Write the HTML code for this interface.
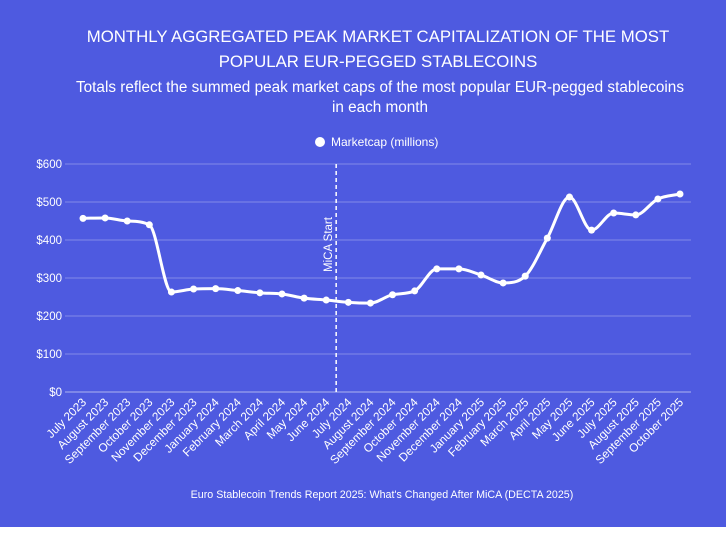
<!DOCTYPE html>
<html><head><meta charset="utf-8"><style>
body{margin:0;background:#fff;width:728px;height:534px;overflow:hidden;font-family:"Liberation Sans",sans-serif}
#bg{position:absolute;left:0;top:0;width:726px;height:527px;background:#4e5ae0}
svg{position:absolute;left:0;top:0}
</style></head><body>
<div id="bg"></div>
<svg id="c" width="728" height="534">
<text x="378" y="42" text-anchor="middle" fill="#fff" font-size="16.8">MONTHLY AGGREGATED PEAK MARKET CAPITALIZATION OF THE MOST</text>
<text x="378" y="67" text-anchor="middle" fill="#fff" font-size="16.8">POPULAR EUR-PEGGED STABLECOINS</text>
<text x="380" y="92" text-anchor="middle" fill="#fff" font-size="15.3">Totals reflect the summed peak market caps of the most popular EUR-pegged stablecoins</text>
<text x="380" y="112" text-anchor="middle" fill="#fff" font-size="15.3">in each month</text>
<g><circle cx="320" cy="142" r="5" fill="#fff"/><text x="331" y="146" fill="#fff" font-size="12">Marketcap (millions)</text></g>
<text x="382" y="498" text-anchor="middle" fill="#fff" font-size="10.7">Euro Stablecoin Trends Report 2025: What's Changed After MiCA (DECTA 2025)</text>
<g id="grid"></g><g id="xl"></g><g id="plot"></g>
</svg>
<script>
const categories=["July 2023","August 2023","September 2023","October 2023","November 2023","December 2023","January 2024","February 2024","March 2024","April 2024","May 2024","June 2024","July 2024","August 2024","September 2024","October 2024","November 2024","December 2024","January 2025","February 2025","March 2025","April 2025","May 2025","June 2025","July 2025","August 2025","September 2025","October 2025"];
const values=[457,458,450,440,263,271,272,267,261,258,247,242,236,234,256,266,324,324,308,287,305,405,513,426,471,466,508,521];
const yTicks=[0,100,200,300,400,500,600];
const micaIndex=11.45;
const NS="http://www.w3.org/2000/svg";
const X=i=>83+i*(597/27), Y=v=>392-v*0.38;
function mk(t,a,p){const e=document.createElementNS(NS,t);for(const k in a)e.setAttribute(k,a[k]);p.appendChild(e);return e;}
const grid=document.getElementById('grid'),xl=document.getElementById('xl'),plot=document.getElementById('plot');
yTicks.forEach(v=>{
 const l=mk('line',{x1:65,x2:691,y1:Y(v),y2:Y(v),stroke:v===0?'rgba(255,255,255,0.55)':'rgba(255,255,255,0.3)','stroke-width':1},grid);
 
 
 const t=mk('text',{x:62,y:Y(v)+4,'text-anchor':'end',fill:'#fff','font-size':11.5},grid);t.textContent='$'+v;
 
 
});
categories.forEach((c,i)=>{
 const t=mk('text',{x:X(i)+4,y:403,'text-anchor':'end',fill:'#fff','font-size':11.8,transform:`rotate(-45 ${X(i)+4} 403)`},xl);t.textContent=c;
 
 
});
const ml=mk('line',{x1:X(micaIndex),x2:X(micaIndex),y1:164,y2:392,stroke:'#fff','stroke-width':1.5,'stroke-dasharray':'4,3'},plot);


const mt=mk('text',{x:X(micaIndex)-4,y:272,fill:'#fff','font-size':11.5,transform:`rotate(-90 ${X(micaIndex)-4} 272)`},plot);mt.textContent='MiCA Start';


const px=values.map((v,i)=>X(i)),py=values.map(v=>Y(v)),n=values.length;
const d=[],m=[];for(let i=0;i<n-1;i++)d.push((py[i+1]-py[i])/(px[i+1]-px[i]));
m[0]=d[0];m[n-1]=d[n-2];
for(let i=1;i<n-1;i++){m[i]=(d[i-1]*d[i]<=0)?0:(d[i-1]+d[i])/2;}
for(let i=0;i<n-1;i++){if(d[i]===0){m[i]=m[i+1]=0;continue;}const a=m[i]/d[i],b=m[i+1]/d[i],s=a*a+b*b;if(s>9){const t=3/Math.sqrt(s);m[i]=t*a*d[i];m[i+1]=t*b*d[i];}}
let p=`M${px[0]},${py[0]}`;
for(let i=0;i<n-1;i++){const h=(px[i+1]-px[i])/3;p+=`C${px[i]+h},${py[i]+m[i]*h} ${px[i+1]-h},${py[i+1]-m[i+1]*h} ${px[i+1]},${py[i+1]}`;}
const ln=mk('path',{d:p,fill:'none',stroke:'#fff','stroke-width':3},plot);


values.forEach((v,i)=>{const c=mk('circle',{cx:X(i),cy:Y(v),r:3.5,fill:'#fff'},plot);
 
 });
</script>
</body></html>
